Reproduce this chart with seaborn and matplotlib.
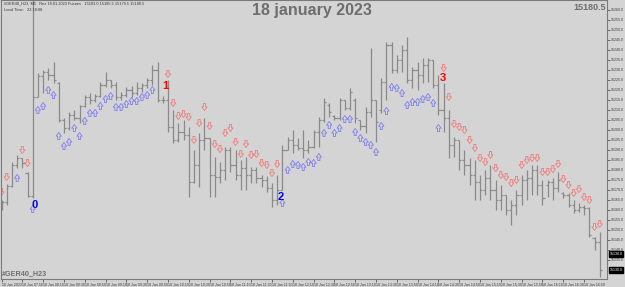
import matplotlib
matplotlib.use("Agg")
import matplotlib.pyplot as plt
import seaborn as sns
import numpy as np
import pandas as pd
from matplotlib.path import Path

# ---------------- data (GER40, M5 bars) ----------------
bar_high = [15165, 15173, 15184, 15187.5, 15186, 15179, 15270, 15228.5, 15230, 15231,
            15234, 15224, 15206, 15209, 15210, 15212.5, 15217.5, 15218.5, 15218, 15224,
            15229, 15225, 15224, 15219, 15221.5, 15222, 15224, 15223.5, 15226, 15232.5,
            15234, 15217, 15225, 15210, 15203.5, 15205, 15201.5, 15190, 15198.5, 15206,
            15196, 15186.5, 15184, 15191.5, 15191.5, 15190, 15185, 15186.5, 15181.5, 15181.5,
            15177.5, 15177, 15173.5, 15177.5, 15192.5, 15196.5, 15200, 15196, 15200, 15195,
            15200, 15206.5, 15216, 15213.5, 15207.5, 15216, 15215, 15221, 15216, 15205,
            15211.5, 15241, 15215, 15226, 15244, 15244, 15237.5, 15242.5, 15246.5, 15231.5,
            15234, 15236, 15236, 15235, 15227.5, 15223.5, 15210, 15196.5, 15195, 15190,
            15186, 15185, 15177.5, 15180, 15182.5, 15175, 15172.5, 15167.5, 15165, 15170,
            15177.5, 15180, 15182.5, 15182.5, 15175, 15175, 15176, 15179, 15169, 15168.5,
            15165, 15163.5, 15162.5, 15161.5, 15146.5, 15149]
bar_low = [15160, 15162.5, 15171.5, 15181, 15181, 15166.5, 15166, 15216.5, 15218.5, 15225,
           15223.5, 15204, 15198.5, 15200, 15205, 15203.5, 15211.5, 15213, 15214, 15216.5,
           15221.5, 15221, 15215, 15215, 15216.5, 15216.5, 15217.5, 15219, 15221, 15222.5,
           15214, 15213.5, 15199, 15193.5, 15194, 15195, 15166.5, 15173.5, 15171.5, 15190,
           15166.5, 15166.5, 15173.5, 15175, 15179, 15175, 15170, 15170, 15173.5, 15173.5,
           15171.5, 15169, 15161.5, 15162.5, 15170, 15190, 15188.5, 15190, 15186, 15188.5,
           15191, 15191.5, 15204, 15206.5, 15205, 15205, 15210, 15210, 15203.5, 15200,
           15198.5, 15206.5, 15194, 15208.5, 15215, 15228.5, 15228.5, 15229, 15223.5, 15221,
           15220, 15223.5, 15224, 15221, 15207.5, 15199, 15186, 15186.5, 15180, 15177.5,
           15172.5, 15165, 15165, 15167.5, 15165, 15160, 15160, 15157.5, 15152.5, 15157.5,
           15162.5, 15165, 15167.5, 15167.5, 15162.5, 15166.5, 15165, 15169, 15166, 15161.5,
           15158.5, 15159, 15157.5, 15146.5, 15140, 15126.5]
bar_open = [15161, 15164, 15172, 15182.5, 15186, 15178.5, 15167, 15216.5, 15227, 15229,
            15227.5, 15223.5, 15205, 15201, 15207.5, 15206, 15212, 15216.5, 15215, 15217,
            15222.5, 15225, 15222.5, 15216.5, 15217.5, 15220, 15218.5, 15221, 15222.5, 15225,
            15230, 15215, 15215, 15201.5, 15195, 15199, 15197.5, 15174, 15182.5, 15195,
            15196, 15177.5, 15176.5, 15180, 15190, 15182.5, 15177.5, 15181, 15177.5, 15180,
            15176, 15175, 15171, 15165, 15170, 15190, 15195, 15192.5, 15191, 15190,
            15191.5, 15199, 15205, 15212.5, 15207, 15206, 15215, 15211, 15215, 15205,
            15202, 15209, 15215, 15210, 15224, 15242.5, 15230, 15235, 15240, 15225,
            15230, 15227.5, 15232.5, 15235, 15222.5, 15210, 15206, 15192.5, 15195, 15185,
            15182.5, 15177.5, 15174, 15170, 15176, 15170, 15165, 15167.5, 15160, 15162.5,
            15167.5, 15175, 15176, 15180, 15172.5, 15172.5, 15174, 15171, 15168.5, 15167.5,
            15162.5, 15160, 15161.5, 15161, 15146, 15144]
bar_close = [15164, 15172, 15182.5, 15186, 15183.5, 15167, 15216.5, 15227, 15229, 15227.5,
             15225, 15205, 15201, 15207.5, 15206, 15212, 15216.5, 15215, 15217, 15222.5,
             15225, 15222.5, 15216.5, 15217.5, 15220, 15218.5, 15221, 15222.5, 15225, 15230,
             15215, 15215, 15201.5, 15195, 15199, 15197.5, 15174, 15182.5, 15195, 15196,
             15177.5, 15176.5, 15180, 15190, 15182.5, 15177.5, 15181, 15177.5, 15180, 15176,
             15175, 15171, 15165, 15170, 15190, 15195, 15192.5, 15191, 15190, 15191.5,
             15199, 15205, 15214, 15209, 15206, 15215, 15211, 15219, 15206, 15202,
             15209, 15215, 15204, 15224, 15242.5, 15230, 15235, 15240, 15225, 15230,
             15227.5, 15232.5, 15235, 15222.5, 15210, 15206, 15192.5, 15195, 15185, 15182.5,
             15177.5, 15174, 15170, 15176, 15170, 15165, 15167.5, 15160, 15162.5, 15167.5,
             15175, 15176, 15180, 15172.5, 15166, 15174, 15171, 15175, 15167.5, 15162.5,
             15160, 15161.5, 15161, 15147.5, 15144, 15130]

up_idx = [3, 6] + list(range(7, 30)) + list(range(54, 85))
up_price = [15176, 15160.5,
            15210, 15212, 15220, 15217.5, 15197, 15192, 15194, 15201, 15197, 15204.5,
            15208.5, 15208.5, 15212, 15215.5, 15217, 15211.5, 15211.5, 15213, 15214.5, 15214.5,
            15216.5, 15217.5, 15220,
            15163.5, 15180, 15183, 15182.5, 15181.5, 15184, 15183.5, 15186.5, 15198.5, 15202.5,
            15198.5, 15201, 15205.5, 15205.5, 15199, 15196, 15194, 15192.5, 15189, 15202,
            15209.5, 15221.5, 15221, 15218.5, 15212.5, 15214, 15214, 15215.5, 15216.5, 15213.5,
            15201]
down_idx = [0, 1, 4, 5] + list(range(32, 54)) + list(range(85, 116))
down_price = [15169, 15176.5, 15190, 15183.5,
              15228, 15213.5, 15207, 15208, 15206.5, 15195, 15203.5, 15211.5, 15202, 15193,
              15190.5, 15198.5, 15201, 15194, 15188, 15193, 15187.5, 15188, 15183.5, 15182.5,
              15178.5, 15183,
              15231, 15216.5, 15203, 15201.5, 15200, 15195, 15191, 15186, 15184, 15187.5,
              15181, 15177.5, 15176.5, 15173.5, 15175, 15182.5, 15185, 15186, 15186, 15179,
              15179, 15180.5, 15183, 15175.5, 15172.5, 15168.5, 15170.5, 15166.5, 15165, 15151.5,
              15153]

signal_x = [6.4, 31.5, 53.6, 84.8]
signal_text = ["0", "1", "2", "3"]
signal_price = [15162.5, 15222.0, 15166.5, 15226.0]
signal_color = ["#0000ff", "#ff0000", "#0000ff", "#ff0000"]

price_ticks = [15260.0, 15255.0, 15250.0, 15245.0, 15240.0, 15235.0, 15230.0, 15225.0,
               15220.0, 15215.0, 15210.0, 15205.0, 15200.0, 15195.0, 15190.0, 15185.0,
               15180.0, 15175.0, 15170.0, 15165.0, 15160.0, 15155.0, 15150.0, 15145.0,
               15140.0, 15135.0]
time_tick_idx = list(range(0, 116, 4))
time_labels = ["18 Jan 2023", "18 Jan 07:50", "18 Jan 08:10", "18 Jan 08:30", "18 Jan 08:50",
               "18 Jan 09:10", "18 Jan 09:30", "18 Jan 09:50", "18 Jan 10:10", "18 Jan 10:30",
               "18 Jan 10:50", "18 Jan 11:10", "18 Jan 11:30", "18 Jan 11:50", "18 Jan 12:10",
               "18 Jan 12:30", "18 Jan 12:50", "18 Jan 13:10", "18 Jan 13:30", "18 Jan 13:50",
               "18 Jan 14:10", "18 Jan 14:30", "18 Jan 14:50", "18 Jan 15:10", "18 Jan 15:30",
               "18 Jan 15:50", "18 Jan 16:10", "18 Jan 16:30", "18 Jan 16:50"]
price_boxes = [15138.0, 15130.0]
corner_price = "15180.5"
title_text = "18 january 2023"
symbol_text = "#GER40_H23"
header_line1 = "#GER40_H23, M5   Rez 18.01.2023 Futures   15183.0 15185.5 15179.5 15180.5"
header_line2 = "Local Time:   22:18:08"

# ---------------- style ----------------
BG = "#d4d4d4"
sns.set_style("ticks", rc={"axes.facecolor": BG, "figure.facecolor": BG,
                           "axes.edgecolor": "#7a7a7a"})
plt.rcParams["font.family"] = ["Liberation Sans", "DejaVu Sans"]

fig = plt.figure(figsize=(6.25, 2.87), dpi=100)
ax = fig.add_axes([0.0016, 0.028, 0.9696, 0.972])

idx = np.arange(len(bar_high))
bars = pd.DataFrame({"i": idx, "high": bar_high, "low": bar_low,
                     "open": bar_open, "close": bar_close})
bar_col = "#8a8a8a"
ax.vlines(bars["i"], bars["low"], bars["high"], color=bar_col, lw=0.9)
ax.hlines(bars["open"], bars["i"] - 0.42, bars["i"], color=bar_col, lw=0.9)
ax.hlines(bars["close"], bars["i"], bars["i"] + 0.42, color=bar_col, lw=0.9)

# outlined arrow markers
down_verts = [(-0.3, 1.0), (0.3, 1.0), (0.3, 0.05), (0.75, 0.05), (0.0, -1.0),
              (-0.75, 0.05), (-0.3, 0.05), (-0.3, 1.0)]
codes = [Path.MOVETO] + [Path.LINETO] * 6 + [Path.CLOSEPOLY]
down_path = Path(down_verts, codes)
up_path = Path([(x, -y) for x, y in down_verts], codes)

up_df = pd.DataFrame({"i": up_idx, "p": up_price})
dn_df = pd.DataFrame({"i": down_idx, "p": down_price})
sns.scatterplot(data=up_df, x="i", y="p", marker=up_path, s=26, ax=ax,
                facecolor="none", edgecolor="#7f7ff2", linewidth=0.6, legend=False)
sns.scatterplot(data=dn_df, x="i", y="p", marker=down_path, s=26, ax=ax,
                facecolor="none", edgecolor="#f07c7c", linewidth=0.6, legend=False)

for sx, st, sp, sc in zip(signal_x, signal_text, signal_price, signal_color):
    ax.text(sx, sp, st, color=sc, fontsize=8, fontweight="bold",
            ha="center", va="center")

ax.set_xlim(-0.1, 116.4)
ax.set_ylim(15125.5, 15265)
ax.set_xlabel("")
ax.set_ylabel("")

ax.yaxis.tick_right()
ax.set_yticks(price_ticks)
ax.set_yticklabels([f"{v:.1f}" for v in price_ticks])
ax.tick_params(axis="y", labelsize=2.6, colors="#3a3a3a", length=2, width=0.5, pad=1)
ax.set_xticks(time_tick_idx)
ax.set_xticklabels(time_labels, ha="left")
ax.tick_params(axis="x", labelsize=2.6, colors="#3a3a3a", length=2, width=0.5, pad=1)
for lab in ax.get_xticklabels():
    lab.set_horizontalalignment("left")
for sp in ax.spines.values():
    sp.set_visible(True)
    sp.set_color("#7a7a7a")
    sp.set_linewidth(0.8)

trans = ax.get_yaxis_transform()
for pb in price_boxes:
    ax.text(1.004, pb, f"{pb:.1f}", transform=trans, fontsize=2.6, color="white",
            ha="left", va="center", clip_on=False,
            bbox=dict(boxstyle="square,pad=0.2", fc="black", ec="black"))

fig.text(312 / 625, 1 - 11 / 287, title_text, fontsize=11.5, fontweight="bold",
         color="#6e6e6e", ha="center", va="center")
fig.text(606 / 625, 1 - 7 / 287, corner_price, fontsize=6.5, fontweight="bold",
         color="#6e6e6e", ha="right", va="center")
fig.text(2 / 625, 1 - 274 / 287, symbol_text, fontsize=5.2, fontweight="bold",
         color="#707070", ha="left", va="center")
fig.text(4 / 625, 1 - 3.5 / 287, header_line1, fontsize=2.8, color="#333333",
         ha="left", va="center")
fig.text(4 / 625, 1 - 10 / 287, header_line2, fontsize=2.8, color="#333333",
         ha="left", va="center")

fig.savefig("out.png", dpi=100, facecolor=BG)
